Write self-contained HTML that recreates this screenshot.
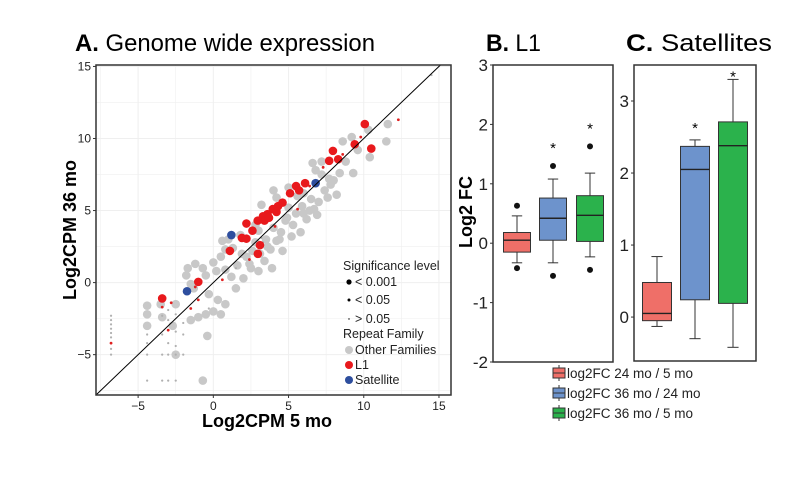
<!DOCTYPE html>
<html><head><meta charset="utf-8"><style>
body{margin:0;background:#fff;}
svg{display:block;font-family:"Liberation Sans",sans-serif;}
</style></head><body>
<svg id="fig" width="800" height="495" viewBox="0 0 800 495">
<text x="75" y="51" font-size="24" textLength="300" lengthAdjust="spacingAndGlyphs"><tspan font-weight="bold">A.</tspan> Genome wide expression</text>
<text x="486" y="51" font-size="24" textLength="55" lengthAdjust="spacingAndGlyphs"><tspan font-weight="bold">B.</tspan> L1</text>
<text x="626" y="51" font-size="24" textLength="146" lengthAdjust="spacingAndGlyphs"><tspan font-weight="bold">C.</tspan> Satellites</text>
<g id="pa"></g>
<g id="pb"></g>
<g id="pc"></g>
<g id="leg"></g>
</svg>
<script>
const NS="http://www.w3.org/2000/svg";
function mk(p,t,a){const e=document.createElementNS(NS,t);for(const k in a)e.setAttribute(k,a[k]);p.appendChild(e);return e;}
// ---- Panel A data ----
const xTicksA=[-5,0,5,10,15];
const yTicksA=[-5,0,5,10,15];
const grayX=[-4.4,-4.4,-4.4,-3.4,-2.5,-0.7,-0.4,-1.5,-1,-0.5,0,0.5,0.8,0.3,-0.3,-1.3,-1.8,-1.7,-1.2,-0.7,-0.5,0.2,0,0.5,0.8,1.2,1.5,2,2.5,2.2,1.3,0.8,3,3.4,3.8,3.5,2.8,4.2,4.5,4,4.8,5.3,5.5,5,4.6,5.8,6.2,6.7,6.5,6,5.6,7,7.4,7.8,7.2,6.8,6.6,7.2,8,8.4,8.8,9.3,9.6,8.6,9.2,10.4,11.5,11.6,10.3,8.2,5,4,4.2,3.2,2.8,1.8,1,0.6,-2.5,-2.7,-3.5,-1.5,3.9,6,7.6,3,5.2,6.9,1.9,2.6,4.4,3.6,2.4,5.9,6.4,7.7,4.9,3.1,1.6];
const grayY=[-1.6,-2.2,-3,-2.4,-5,-6.8,-3.7,-2.6,-2.4,-2.2,-2,-2.2,-1.5,-1.2,-0.8,-0.4,0.5,1.0,1.3,1.0,0.5,0.8,1.4,1.8,0.9,0.4,-0.4,0.3,1,1.8,2.4,2.3,0.8,1.5,2.3,3.0,2.8,2.9,3.5,3.8,4.3,4.0,4.8,5.2,2.2,3.5,4.4,5.1,5.8,6.2,6.0,5.6,6.4,6.8,7.5,7.8,8.3,8.4,7.1,7.6,8.4,7.6,9.2,9.8,10.1,8.7,9.8,11.0,10.6,6.1,6.6,6.4,5.9,5.4,4.0,3.3,3.0,2.9,-1.5,-3.0,-1.5,-0.1,1.0,4.8,5.9,3.6,3.2,4.7,2.0,2.2,3.0,2.5,1.3,5.3,5.0,7.2,4.5,2.0,1.2];
const redX=[10.07,10.5,9.4,7.95,7.7,8.3,6.1,5.5,5.7,5.1,4.6,4.3,3.95,3.6,3.3,3.4,2.95,2.2,2.6,1.9,2.2,3.1,1.1,2.96,-1.0,-3.4,4.2,3.7];
const redY=[11.0,9.3,9.6,9.14,8.45,8.56,6.9,6.7,6.4,6.2,5.55,5.3,5.1,4.75,4.6,4.3,4.3,4.1,3.6,3.1,3.05,2.6,2.2,2.0,0.05,-1.1,4.9,4.5];
const blueX=[1.2,6.8,-1.75];
const blueY=[3.3,6.9,-0.6];
const smallX=[-6.8,-6.8,-6.8,-6.8,-6.8,-6.8,-6.8,-6.8,-6.8,-4.4,-4.4,-4.4,-3.4,-3.4,-3.4,-3.4,-3.0,-3.0,-3.0,-3.0,-3.0,-2.5,-2.5,-2.5,-2.5,-2.0,-2.0,-2.0,-4.4,-3.4,-3.0,-2.5,-1.5,-1,-0.3,0.6,1.5,2.4,3.2,4.1,5.6,6.4,7.3,8.6,9.8,12.3,14.5,3.3,-2.8,-1.2];
const smallY=[-2.3,-2.6,-2.9,-3.2,-3.5,-3.8,-4.2,-4.6,-5,-3.6,-4.2,-5,-1.7,-2.3,-3.6,-5,-1.9,-2.6,-3.3,-4.2,-5,-2.2,-3.4,-4.4,-5,-2.8,-3.6,-5,-6.8,-6.8,-6.8,-6.8,-1.8,-1.2,-1.8,0.2,1.0,1.6,3.1,3.9,5.1,6.7,8.0,8.9,10.1,11.3,14.4,2.8,-1.4,-0.3];
const smallRed=[0,0,0,0,0,0,1,0,0,0,0,0,1,0,0,0,0,0,1,0,0,0,0,0,0,0,0,0,0,0,0,0,1,1,0,1,0,1,0,1,1,1,1,1,1,1,0,0,1,1];
const AX={l:96,r:451,t:65,b:395,xmin:-7.8,xmax:15.8,ymin:-7.8,ymax:15.1};
const ax=v=>AX.l+(v-AX.xmin)/(AX.xmax-AX.xmin)*(AX.r-AX.l);
const ay=v=>AX.b-(v-AX.ymin)/(AX.ymax-AX.ymin)*(AX.b-AX.t);
const pa=document.getElementById('pa');
for(let v=-7.5;v<=15;v+=2.5){let g=mk(pa,'line',{x1:ax(v),x2:ax(v),y1:AX.t,y2:AX.b,stroke:'#efefef','stroke-width':Number.isInteger(v/5)?1:0.6});

let h=mk(pa,'line',{y1:ay(v),y2:ay(v),x1:AX.l,x2:AX.r,stroke:'#efefef','stroke-width':Number.isInteger(v/5)?1:0.6});
}
grayX.forEach((x,i)=>{const c=mk(pa,'circle',{cx:ax(x),cy:ay(grayY[i]),r:4.3,fill:'#c8c8c8'});
});
smallX.forEach((x,i)=>{const c=mk(pa,'circle',{cx:ax(x),cy:ay(smallY[i]),r:smallRed[i]?1.4:1.1,fill:smallRed[i]?'#e02020':'#b0b0b0'});
});
redX.forEach((x,i)=>{const c=mk(pa,'circle',{cx:ax(x),cy:ay(redY[i]),r:4.3,fill:'#e8191c'});
});
blueX.forEach((x,i)=>{const c=mk(pa,'circle',{cx:ax(x),cy:ay(blueY[i]),r:4.3,fill:'#2e4e9e'});
});
const dl=mk(pa,'line',{x1:ax(-7.8),y1:ay(-7.8),x2:ax(15.1),y2:ay(15.1),stroke:'#000','stroke-width':1});

const fa=mk(pa,'rect',{x:AX.l,y:AX.t,width:AX.r-AX.l,height:AX.b-AX.t,fill:'none',stroke:'#333','stroke-width':1.5});

xTicksA.forEach(v=>{mk(pa,'line',{x1:ax(v),x2:ax(v),y1:AX.b,y2:AX.b+3,stroke:'#333'});
const t=mk(pa,'text',{x:ax(v),y:AX.b+15,'font-size':12,'text-anchor':'middle',fill:'#222'});t.textContent=v<0?'\u2212'+(-v):v;
});
yTicksA.forEach(v=>{mk(pa,'line',{x1:AX.l-3,x2:AX.l,y1:ay(v),y2:ay(v),stroke:'#333'});
const t=mk(pa,'text',{x:AX.l-5,y:ay(v)+4,'font-size':12,'text-anchor':'end',fill:'#222'});t.textContent=v<0?'\u2212'+(-v):v;
});
let t=mk(pa,'text',{x:267,y:427,'font-size':18,'font-weight':'bold','text-anchor':'middle'});t.textContent='Log2CPM 5 mo';

t=mk(pa,'text',{x:0,y:0,'font-size':18,'font-weight':'bold','text-anchor':'middle',transform:'translate(76,230) rotate(-90)'});t.textContent='Log2CPM 36 mo';

const legA=[['Significance level',266,null,0],['< 0.001',282,'#000',2.6],['< 0.05',300,'#000',1.5],['> 0.05',319,'#000',0.7],['Repeat Family',334,null,0],['Other Families',350,'#c8c8c8',4],['L1',365,'#e8191c',4],['Satellite',380,'#2e4e9e',4]];
legA.forEach(e=>{const tt=mk(pa,'text',{x:e[2]?355:343,y:e[1]+4,'font-size':12.5,fill:'#222'});tt.textContent=e[0];

if(e[2]){const c=mk(pa,'circle',{cx:349,cy:e[1],r:e[3],fill:e[2]});}});
// ---- Box data ----
const boxColors=['#ef6f68','#6d93cc','#2bb24c'];
const l1Lo=[-0.33,-0.33,-0.23],l1Q1=[-0.15,0.05,0.03],l1Med=[0.05,0.42,0.47],l1Q3=[0.18,0.76,0.8],l1Hi=[0.46,1.08,1.18];
const l1Outliers=[[0.63,-0.42],[1.3,-0.55],[1.63,-0.45]];
const l1Star=[null,1.65,1.98];
const satLo=[-0.13,-0.3,-0.42],satQ1=[-0.05,0.24,0.19],satMed=[0.05,2.05,2.38],satQ3=[0.48,2.37,2.71],satHi=[0.84,2.46,3.3];
const satStar=[null,2.67,3.38];
const l1Ticks=[-2,-1,0,1,2,3];
const satTicks=[0,1,2,3];
function boxPanel(g,P,lo,q1,med,q3,hi,outl,star,ticks,name){
const y=v=>P.b-(v-P.ymin)/(P.ymax-P.ymin)*(P.b-P.t);
const f=mk(g,'rect',{x:P.l,y:P.t,width:P.r-P.l,height:P.b-P.t,fill:'none',stroke:'#333','stroke-width':1.5});

ticks.forEach(v=>{mk(g,'line',{x1:P.l-3,x2:P.l,y1:y(v),y2:y(v),stroke:'#333'});
const tt=mk(g,'text',{x:P.l-5,y:y(v)+6,'font-size':17,'text-anchor':'end',fill:'#222'});tt.textContent=v;
});
P.cx.forEach((cx,i)=>{const w=P.w/2;
mk(g,'line',{x1:cx,x2:cx,y1:y(hi[i]),y2:y(q3[i]),stroke:'#333'});
mk(g,'line',{x1:cx,x2:cx,y1:y(lo[i]),y2:y(q1[i]),stroke:'#333'});
mk(g,'line',{x1:cx-w/2.6,x2:cx+w/2.6,y1:y(hi[i]),y2:y(hi[i]),stroke:'#333'});
mk(g,'line',{x1:cx-w/2.6,x2:cx+w/2.6,y1:y(lo[i]),y2:y(lo[i]),stroke:'#333'});
const r=mk(g,'rect',{x:cx-w,y:y(q3[i]),width:2*w,height:y(q1[i])-y(q3[i]),fill:boxColors[i],stroke:'#333','stroke-width':1});

mk(g,'line',{x1:cx-w,x2:cx+w,y1:y(med[i]),y2:y(med[i]),stroke:'#222','stroke-width':1.4});
if(outl)outl[i].forEach(o=>{const c=mk(g,'circle',{cx:cx,cy:y(o),r:3,fill:'#111'});});
if(star[i]!=null){const s=mk(g,'text',{x:cx,y:y(star[i])+8,'font-size':15,'text-anchor':'middle'});s.textContent='*';
}});
}
boxPanel(document.getElementById('pb'),{l:493,r:613,t:65,b:362,ymin:-2,ymax:3,cx:[517,553,590],w:27},l1Lo,l1Q1,l1Med,l1Q3,l1Hi,l1Outliers,l1Star,l1Ticks,'l1');
boxPanel(document.getElementById('pc'),{l:634,r:756,t:65,b:361,ymin:-0.61,ymax:3.5,cx:[657,695,733],w:29},satLo,satQ1,satMed,satQ3,satHi,null,satStar,satTicks,'sat');
t=mk(document.getElementById('pb'),'text',{x:0,y:0,'font-size':18,'font-weight':'bold','text-anchor':'middle',transform:'translate(472,212) rotate(-90)'});t.textContent='Log2 FC';

const legB=['log2FC 24 mo / 5 mo','log2FC 36 mo / 24 mo','log2FC 36 mo / 5 mo'];
const leg=document.getElementById('leg');
legB.forEach((s,i)=>{const yy=373+i*20;
mk(leg,'line',{x1:559,x2:559,y1:yy-8,y2:yy+8,stroke:'#333'});
const r=mk(leg,'rect',{x:553,y:yy-5,width:12,height:10,fill:boxColors[i],stroke:'#333'});

mk(leg,'line',{x1:553,x2:565,y1:yy,y2:yy,stroke:'#333'});
const tt=mk(leg,'text',{x:567,y:yy+5,'font-size':13.5,fill:'#222'});tt.textContent=s;
});
</script>
</body></html>
